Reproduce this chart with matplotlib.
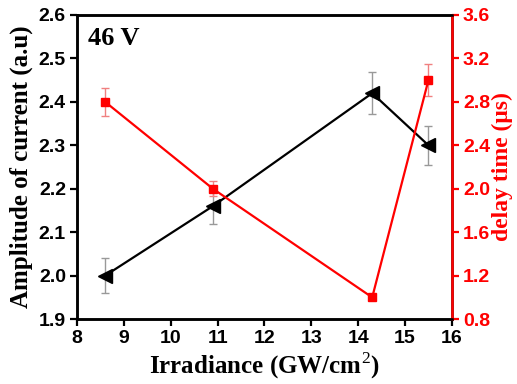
import matplotlib
matplotlib.use("Agg")
import matplotlib.pyplot as pyplot

irradiance = [8.6, 10.9, 14.3, 15.5]
current = [2.00, 2.16, 2.42, 2.30]
current_err = [0.04, 0.04, 0.048, 0.045]
delay = [2.8, 2.0, 1.0, 3.0]
delay_err = [0.13, 0.07, 0.0, 0.15]

x_ticks = list(range(8, 17))
left_ticks = [1.9, 2.0, 2.1, 2.2, 2.3, 2.4, 2.5, 2.6]
right_ticks = [0.8, 1.2, 1.6, 2.0, 2.4, 2.8, 3.2, 3.6]

pyplot.rcParams["mathtext.fontset"] = "custom"
pyplot.rcParams["mathtext.rm"] = "Liberation Serif"
pyplot.rcParams["mathtext.bf"] = "Liberation Serif:bold"

tick_font = {"family": "Liberation Sans", "weight": "bold", "size": 14}
label_font = {"family": "Liberation Serif", "weight": "bold", "size": 18}

fig = pyplot.figure(figsize=(5.17, 3.84), dpi=100)
ax = fig.add_axes([0.149, 0.169, 0.725, 0.792])
ax2 = ax.twinx()

ax.errorbar(irradiance, current, yerr=current_err, color="black", marker="<",
            markersize=10, linewidth=1.6, ecolor="#999999", elinewidth=1.0,
            capsize=3, zorder=3)
ax2.errorbar(irradiance, delay, yerr=delay_err, color="red", marker="s",
             markersize=6, linewidth=1.6, ecolor="#f08080", elinewidth=1.0,
             capsize=3, zorder=3)

ax.set_xlim(8, 16)
ax.set_ylim(1.9, 2.6)
ax2.set_ylim(0.8, 3.6)
ax.set_xticks(x_ticks)
ax.set_yticks(left_ticks)
ax2.set_yticks(right_ticks)
ax.set_xticklabels([str(t) for t in x_ticks], fontdict=tick_font)
ax.set_yticklabels(["%.1f" % t for t in left_ticks], fontdict=tick_font)
ax2.set_yticklabels(["%.1f" % t for t in right_ticks], fontdict=tick_font, color="red")

ax.tick_params(direction="out", width=1.6, length=5, pad=3)
ax2.tick_params(direction="out", width=1.6, length=5, pad=3, colors="red")

for spine in ax.spines.values():
    spine.set_linewidth(1.8)
for spine in ax2.spines.values():
    spine.set_linewidth(1.8)
ax2.spines["right"].set_color("red")

ax.set_xlabel("Irradiance (GW/cm$^{\\mathrm{2}}$)", fontdict=label_font, labelpad=2)
ax.set_ylabel("Amplitude of current (a.u)", fontdict=label_font, labelpad=4)
ax2.set_ylabel("delay time (\u03bcs)", fontdict=dict(label_font, size=17),
               color="red", labelpad=1)

ax.text(0.03, 0.96, "46 V", transform=ax.transAxes, ha="left", va="top",
        fontdict={"family": "Liberation Serif", "weight": "bold", "size": 19})

fig.savefig("out.png", dpi=100)
